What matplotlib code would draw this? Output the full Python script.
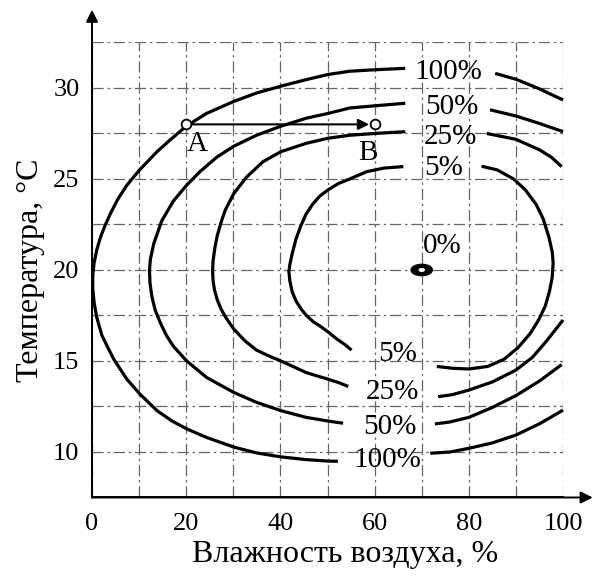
import matplotlib
matplotlib.use("Agg")
import matplotlib.pyplot as plt
from matplotlib.patches import Ellipse

plt.rcParams['font.family'] = ['Liberation Serif', 'DejaVu Serif']

# curve segments (humidity %, temperature C)
c100_left = [(66.5, 31.08), (60, 31.0), (54.7, 30.92), (50.1, 30.74), (45.5, 30.46),
             (40.1, 30.1), (34.9, 29.72), (30.1, 29.26), (24.3, 28.6), (20.0, 27.9),
             (16.6, 27.15), (13.8, 26.5), (10.1, 25.5), (7.4, 24.66), (5.5, 23.9),
             (3.9, 23.1), (2.7, 22.4), (1.8, 21.8), (1.0, 21.1), (0.45, 20.4),
             (0.15, 19.7), (0.15, 19.0), (0.45, 18.2), (1.0, 17.4), (2.1, 16.4),
             (4.6, 15.1), (7.4, 14.0), (10.1, 13.2), (13.8, 12.27), (17, 11.7),
             (20.1, 11.27), (24.3, 10.8), (30.1, 10.27), (34.9, 9.95), (40.1, 9.73),
             (45.5, 9.58), (50.1, 9.5), (52.2, 9.49)]
c100_right_low = [(71.8, 9.93), (76, 10.0), (80, 10.2), (85, 10.5), (90, 10.93),
                  (95, 11.55), (100, 12.3)]
c100_right_up = [(85.6, 30.8), (90, 30.48), (95, 29.95), (100, 29.34)]

c50_left = [(66.5, 29.16), (60, 29.02), (54.7, 28.9), (50.1, 28.6), (45.5, 28.34),
            (40.1, 27.9), (34.9, 27.4), (30.1, 26.8), (26.5, 26.2), (22.9, 25.4),
            (20.1, 24.66), (17.3, 23.8), (14.8, 22.7), (13.1, 21.44), (12.4, 20.6),
            (12.2, 20.0), (12.3, 19.3), (12.7, 18.55), (13.4, 17.8), (14.5, 17.1),
            (15.8, 16.4), (17.3, 15.8), (20.1, 15.0), (24.3, 14.1), (30.1, 13.27),
            (34.9, 12.73), (40.1, 12.27), (45.5, 11.9), (50.1, 11.7), (53.3, 11.58)]
c50_right_low = [(72.8, 11.54), (76, 11.65), (80, 11.9), (85, 12.45), (90, 13.1),
                 (95, 13.9), (99.7, 14.8)]
c50_right_up = [(84.5, 28.8), (90, 28.46), (95, 28.05), (100, 27.6)]

c25_left = [(66.5, 27.6), (60, 27.5), (54.7, 27.4), (50.1, 27.24), (45.5, 26.96),
            (40.1, 26.5), (36.3, 25.95), (32.8, 25.1), (30.1, 24.2), (29.3, 23.8),
            (28.3, 23.3), (27.5, 22.7), (26.6, 21.9), (26.1, 21.25), (25.7, 20.5),
            (25.6, 20.0), (25.7, 19.4), (26.0, 18.9), (26.6, 18.35), (27.4, 17.85),
            (28.5, 17.35), (30.1, 16.75), (32.5, 16.1), (34.9, 15.6), (37.5, 15.28),
            (40.1, 15.0), (45.5, 14.36), (50.1, 14.0), (52.5, 13.8), (54.4, 13.6)]
c25_right_low = [(73.5, 13.04), (76.5, 13.15), (80, 13.4), (85, 13.85), (90, 14.5),
                 (93.5, 15.2), (96.5, 16.1), (100, 17.25)]
c25_right_up = [(83.8, 27.5), (90, 27.18), (95, 26.6), (97.5, 26.2), (99.7, 25.68)]

c5_left = [(66.1, 25.68), (62, 25.6), (58.3, 25.4), (54.7, 25.0), (52.3, 24.75),
           (50.1, 24.4), (48.3, 24.05), (46.8, 23.6), (45.4, 23.05), (44.3, 22.4),
           (43.3, 21.7), (42.5, 20.9), (42.0, 20.3), (41.8, 19.9), (42.0, 19.4),
           (42.5, 18.8), (43.3, 18.3), (44.4, 17.85), (45.5, 17.5), (47.0, 17.15),
           (48.5, 16.9), (50.1, 16.6), (52.0, 16.2), (53.7, 15.9), (55.1, 15.6)]
c5_right = [(82.7, 25.7), (86, 25.5), (89.5, 25.0), (92, 24.4), (94.3, 23.6), (95.8, 22.8),
            (97, 21.8), (97.7, 21.0), (97.9, 20.4), (97.7, 19.6), (97.1, 18.8), (96.2, 18.0),
            (94.7, 17.2), (93, 16.5), (90.5, 15.75), (87.5, 15.1), (84, 14.7), (80, 14.56),
            (76.5, 14.6), (73.2, 14.7)]

segments = [c100_left, c100_right_low, c100_right_up,
            c50_left, c50_right_low, c50_right_up,
            c25_left, c25_right_low, c25_right_up,
            c5_left, c5_right]

# labels on the curves
top_labels = ['100%', '50%', '25%', '5%']
top_label_x = [75.7, 76.5, 76.0, 74.7]
top_label_y = [30.85, 28.97, 27.3, 25.6]
bottom_labels = ['5%', '25%', '50%', '100%']
bottom_label_x = [64.9, 63.7, 63.3, 62.6]
bottom_label_y = [15.4, 13.3, 11.4, 9.56]

optimum = (70, 20)
point_names = ['A', 'B']
point_x = [20, 60]
point_y = [28, 28]

fig = plt.figure(figsize=(5.96, 5.77), dpi=100)
ax = fig.add_axes([0.1544, 0.1378, 0.7903, 0.7886])
ax.set_xlim(0, 100)
ax.set_ylim(7.5, 32.5)

ax.set_xticks([0, 20, 40, 60, 80, 100])
ax.set_xticks(range(10, 101, 20), minor=True)
ax.set_yticks([10, 15, 20, 25, 30])
ax.set_yticks([12.5, 17.5, 22.5, 27.5, 32.5], minor=True)
ax.tick_params(which='both', length=0, labelsize=19)
ax.tick_params(axis='x', pad=11)
ax.tick_params(axis='y', pad=9)
ax.grid(which='both', color='#666666', linestyle=(0, (9, 3, 2, 3)), linewidth=0.9)

for s in ['top', 'right']:
    ax.spines[s].set_visible(False)
for s in ['left', 'bottom']:
    ax.spines[s].set_linewidth(1.4)

# axis arrows
ax.annotate('', xy=(0, 34.3), xytext=(0, 7.5), annotation_clip=False,
            arrowprops=dict(arrowstyle='-|>', color='black', lw=1.4, mutation_scale=18,
                            shrinkA=0, shrinkB=0))
ax.annotate('', xy=(106.3, 7.5), xytext=(0, 7.5), annotation_clip=False,
            arrowprops=dict(arrowstyle='-|>', color='black', lw=1.4, mutation_scale=18,
                            shrinkA=0, shrinkB=0))

for seg in segments:
    xs = [p[0] for p in seg]
    ys = [p[1] for p in seg]
    ax.plot(xs, ys, color='black', lw=2.3, solid_capstyle='butt', solid_joinstyle='round',
            clip_on=False, zorder=3)

for t, x, y in zip(top_labels, top_label_x, top_label_y):
    ax.text(x, y, t, fontsize=21, ha='center', va='center', zorder=4)
for t, x, y in zip(bottom_labels, bottom_label_x, bottom_label_y):
    ax.text(x, y, t, fontsize=21, ha='center', va='center', zorder=4)
ax.text(74.4, 21.3, '0%', fontsize=21, ha='center', va='center', zorder=4)

# optimum point
ax.add_patch(Ellipse(optimum, 4.5, 0.62, facecolor='black', edgecolor='black', zorder=4))
ax.add_patch(Ellipse(optimum, 1.4, 0.22, facecolor='white', edgecolor='none', zorder=5))

# A -> B
ax.annotate('', xy=(point_x[1], point_y[1]), xytext=(point_x[0], point_y[0]),
            arrowprops=dict(arrowstyle='-|>', color='black', lw=1.5, mutation_scale=16,
                            shrinkA=4, shrinkB=4), zorder=4)
ax.plot(point_x, point_y, 'o', ms=7, mfc='white', mec='black', mew=1.3, zorder=6)
ax.text(22.3, 26.9, point_names[0], fontsize=21, ha='center', va='center')
ax.text(58.6, 26.4, point_names[1], fontsize=21, ha='center', va='center')

ax.set_xlabel('Влажность воздуха, %', fontsize=23, labelpad=4, x=0.537)
ax.set_ylabel('Температура, °С', fontsize=23, labelpad=6)

fig.savefig('out.png', dpi=100)
